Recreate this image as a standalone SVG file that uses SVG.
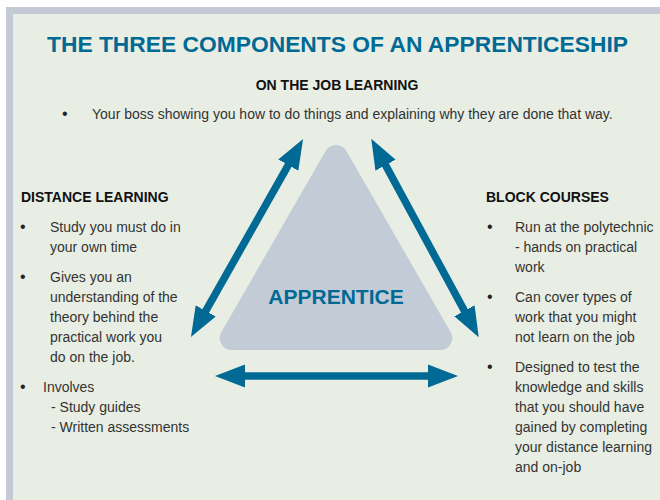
<svg xmlns="http://www.w3.org/2000/svg" width="660" height="500" viewBox="0 0 660 500">
<style>
.title{font-family:"Liberation Sans",Arial,sans-serif;font-weight:bold;font-size:22px;fill:#006994}
.head{font-family:"Liberation Sans",Arial,sans-serif;font-weight:bold;font-size:14px;fill:#111}
.body{font-family:"Liberation Sans",Arial,sans-serif;font-size:14px;fill:#333}
.bul{font-family:"Liberation Sans",Arial,sans-serif;font-size:16px;fill:#222}
.center{font-family:"Liberation Sans",Arial,sans-serif;font-weight:bold;font-size:21px;fill:#006994}
.arrow{stroke:#006994;stroke-width:7.5;fill:none;marker-start:url(#ah);marker-end:url(#ah)}
</style>
<defs>
<marker id="ah" markerUnits="userSpaceOnUse" markerWidth="30" markerHeight="24" viewBox="0 0 30 24" refX="10" refY="12" orient="auto-start-reverse">
<path d="M0,0.5 L30,12 L0,23.5 Z" fill="#006994"/>
</marker>
</defs>
<rect x="0" y="0" width="660" height="500" fill="#ffffff"/>
<rect x="6" y="7" width="660" height="500" fill="#c3cad6"/>
<rect x="13" y="14" width="660" height="500" fill="#e8eee4"/>
<text class="title" x="47" y="52" textLength="581" lengthAdjust="spacingAndGlyphs">THE THREE COMPONENTS OF AN APPRENTICESHIP</text>
<g id="apprentice">
<path d="M325.6,151 A12,12 0 0 1 346.4,151 L450.6,332 A12,12 0 0 1 440.2,350 L231.8,350 A12,12 0 0 1 221.4,332 Z" fill="#c3cbd6"/>
<text class="center" x="336" y="304" text-anchor="middle">APPRENTICE</text>
</g>
<g id="on-the-job">
<text class="head" x="337" y="90" text-anchor="middle">ON THE JOB LEARNING</text>
<text class="bul" x="62" y="119">•</text>
<text class="body" x="92" y="119">Your boss showing you how to do things and explaining why they are done that way.</text>
</g>
<g id="distance">
<text class="head" x="21" y="202">DISTANCE LEARNING</text>
<text class="bul" x="20" y="232">•</text>
<text class="body" x="50" y="232">Study you must do in</text>
<text class="body" x="50" y="252">your own time</text>
<text class="bul" x="20" y="282">•</text>
<text class="body" x="50" y="282">Gives you an</text>
<text class="body" x="50" y="302">understanding of the</text>
<text class="body" x="50" y="322">theory behind the</text>
<text class="body" x="50" y="342">practical work you</text>
<text class="body" x="50" y="362">do on the job.</text>
<text class="bul" x="20" y="392">•</text>
<text class="body" x="43" y="392">Involves</text>
<text class="body" x="51" y="412">- Study guides</text>
<text class="body" x="51" y="432">- Written assessments</text>
</g>
<g id="block">
<text class="head" x="486" y="202">BLOCK COURSES</text>
<text class="bul" x="487" y="232">•</text>
<text class="body" x="515" y="232">Run at the polytechnic</text>
<text class="body" x="515" y="252">- hands on practical</text>
<text class="body" x="515" y="272">work</text>
<text class="bul" x="487" y="302">•</text>
<text class="body" x="515" y="302">Can cover types of</text>
<text class="body" x="515" y="322">work that you might</text>
<text class="body" x="515" y="342">not learn on the job</text>
<text class="bul" x="487" y="372">•</text>
<text class="body" x="515" y="372">Designed to test the</text>
<text class="body" x="515" y="392">knowledge and skills</text>
<text class="body" x="515" y="412">that you should have</text>
<text class="body" x="515" y="432">gained by completing</text>
<text class="body" x="515" y="452">your distance learning</text>
<text class="body" x="515" y="472">and on-job</text>
</g>
<g id="connectors">
<line class="arrow" x1="293.2" y1="156.4" x2="200.8" y2="319.6"/>
<line class="arrow" x1="380.8" y1="156.4" x2="469.2" y2="319.6"/>
<line class="arrow" x1="235" y1="376" x2="438" y2="376"/>
</g>
</svg>
